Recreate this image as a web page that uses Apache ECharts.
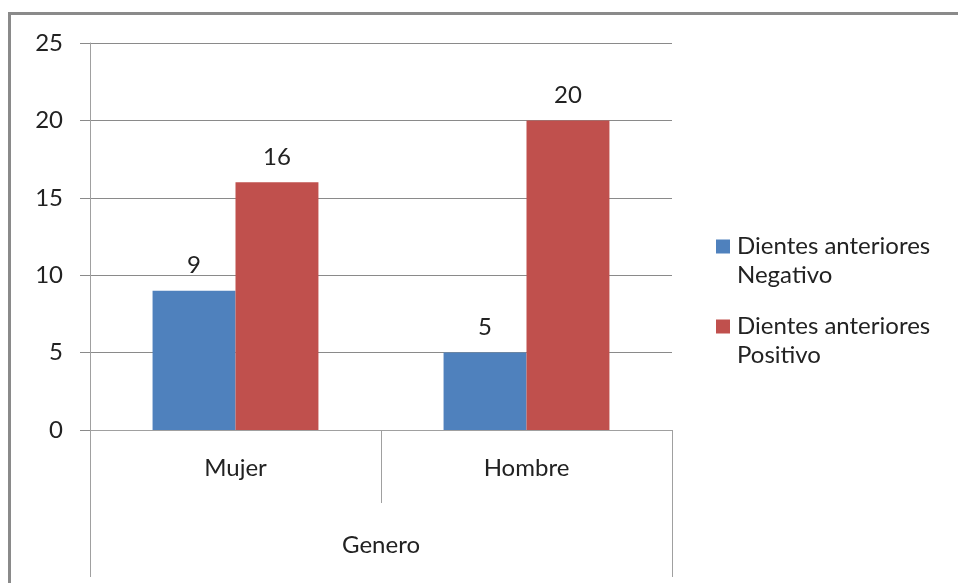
<!DOCTYPE html>
<html>
<head>
<meta charset="utf-8">
<script src="https://cdn.jsdelivr.net/npm/echarts@6/dist/echarts.min.js"></script>
<style>
  html, body { margin: 0; padding: 0; background: #fff; overflow: hidden; }
  #wrap { position: relative; width: 958px; height: 583px; overflow: hidden; }
  #marco { position: absolute; left: 8px; top: 12px; width: 1200px; height: 1200px; border-left: 3px solid #8a8a8a; border-top: 3px solid #8a8a8a; }
  #chart { position: absolute; left: 0; top: 0; width: 958px; height: 583px; }
</style>
</head>
<body>
<div id="wrap">
  <div id="marco"></div>
  <div id="chart"></div>
</div>
<script>
// datos del grafico
var categorias = ['Mujer', 'Hombre'];
var grupo = ['Genero'];
var nombresSeries = ['Dientes anteriores Negativo', 'Dientes anteriores Positivo'];
var negativo = [9, 5];
var positivo = [16, 20];
var colores = ['#4f81bd', '#c0504d'];

var fuente = 'Lato';
var tam = 24;
var chart = echarts.init(document.getElementById('chart'));

var option = {
  animation: false,
  backgroundColor: 'transparent',
  textStyle: { fontFamily: fuente },
  grid: { left: 90, right: 286, top: 43, bottom: 153 },
  legend: {
    orient: 'vertical',
    left: 716,
    top: 203,
    padding: 0,
    itemWidth: 14,
    itemHeight: 14,
    itemGap: -7,
    icon: 'rect',
    data: nombresSeries,
    // linea vacia delante para que el cuadro quede alineado con la primera linea
    formatter: function (name) {
      return '\n' + name.replace(' anteriores ', ' anteriores\n');
    },
    textStyle: { fontFamily: fuente, fontSize: tam, lineHeight: 29, color: '#222', padding: [0, 0, 0, 2] }
  },
  xAxis: [{
    type: 'category',
    data: categorias,
    axisLine: { lineStyle: { color: '#a0a0a0', width: 1 } },
    axisTick: { show: true, length: 73, lineStyle: { color: '#a0a0a0' } },
    axisLabel: { margin: 26, fontSize: tam, color: '#222', fontFamily: fuente }
  }, {
    type: 'category',
    data: grupo,
    position: 'bottom',
    axisLine: { show: false },
    axisTick: { show: true, length: 147, lineStyle: { color: '#a0a0a0' } },
    axisLabel: { margin: 103, fontSize: tam, color: '#222', fontFamily: fuente }
  }],
  yAxis: {
    type: 'value',
    min: 0,
    max: 25,
    interval: 5,
    axisLine: { show: true, lineStyle: { color: '#a0a0a0' } },
    axisTick: { show: true, length: 10, lineStyle: { color: '#8a8a8a' } },
    splitLine: { lineStyle: { color: '#8a8a8a' } },
    axisLabel: { margin: 27, fontSize: tam, color: '#222', fontFamily: fuente }
  },
  series: [{
    name: nombresSeries[0],
    type: 'bar',
    data: negativo,
    barGap: '0%',
    barCategoryGap: '43%',
    itemStyle: { color: colores[0] },
    label: { show: true, position: 'top', distance: 13, fontSize: tam, color: '#222', fontFamily: fuente }
  }, {
    name: nombresSeries[1],
    type: 'bar',
    data: positivo,
    barGap: '0%',
    barCategoryGap: '43%',
    itemStyle: { color: colores[1] },
    label: { show: true, position: 'top', distance: 13, fontSize: tam, color: '#222', fontFamily: fuente }
  }]
};

chart.setOption(option);
</script>
</body>
</html>
